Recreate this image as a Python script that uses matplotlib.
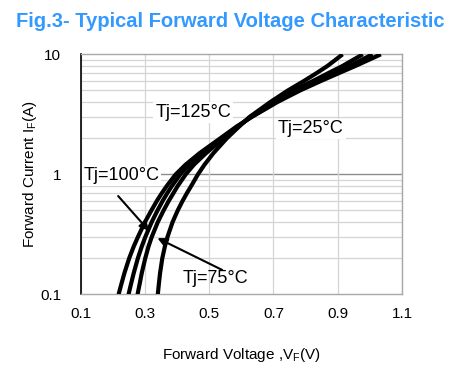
import matplotlib
matplotlib.use("Agg")
import matplotlib.pyplot as plt
from matplotlib.ticker import NullFormatter, LogLocator

plt.rcParams['font.family'] = ['Liberation Sans', 'DejaVu Sans']

# Data (forward current in A, forward voltage in V)
current = [0.1, 0.12, 0.15, 0.2, 0.25, 0.3, 0.4, 0.5, 0.6, 0.7, 0.8, 1.0,
           1.2, 1.5, 2.0, 2.5, 3.0, 4.0, 5.0, 6.0, 7.0, 8.0, 9.0, 10.0]
vf_125 = [0.218, 0.226, 0.236, 0.251, 0.265, 0.278, 0.300, 0.320, 0.337, 0.353, 0.368, 0.396,
          0.426, 0.470, 0.535, 0.585, 0.632, 0.712, 0.783, 0.848, 0.905, 0.955, 0.997, 1.034]
vf_100 = [0.249, 0.256, 0.265, 0.278, 0.290, 0.301, 0.321, 0.339, 0.355, 0.370, 0.384, 0.410,
          0.437, 0.480, 0.540, 0.588, 0.630, 0.706, 0.773, 0.835, 0.890, 0.937, 0.975, 1.008]
vf_75 = [0.277, 0.283, 0.290, 0.301, 0.311, 0.321, 0.340, 0.358, 0.374, 0.389, 0.402, 0.427,
         0.452, 0.490, 0.545, 0.590, 0.628, 0.700, 0.763, 0.823, 0.872, 0.915, 0.948, 0.978]
vf_25 = [0.340, 0.343, 0.347, 0.354, 0.362, 0.370, 0.386, 0.402, 0.417, 0.431, 0.444, 0.465,
         0.485, 0.513, 0.555, 0.593, 0.625, 0.690, 0.745, 0.795, 0.835, 0.868, 0.893, 0.915]
series = [vf_125, vf_100, vf_75, vf_25]

x_ticks = [0.1, 0.3, 0.5, 0.7, 0.9, 1.1]
x_tick_labels = ["0.1", "0.3", "0.5", "0.7", "0.9", "1.1"]
y_ticks = [0.1, 1, 10]
y_tick_labels = ["0.1", "1", "10"]

title = "Fig.3- Typical Forward Voltage Characteristic"
xlabel = "Forward Voltage ,V$_{\\mathregular{F}}$(V)"
ylabel = "Forward Current I$_{\\mathregular{F}}$(A)"

fig = plt.figure(figsize=(4.6, 3.79), dpi=100)
ax = fig.add_axes([0.1754, 0.2235, 0.874 - 0.1754, 0.8567 - 0.2235])

ax.set_yscale('log')
ax.set_xlim(0.1, 1.1)
ax.set_ylim(0.1, 10)

ax.set_xticks(x_ticks)
ax.set_xticklabels(x_tick_labels)
ax.set_yticks(y_ticks)
ax.set_yticklabels(y_tick_labels)
ax.yaxis.set_minor_locator(LogLocator(base=10, subs=range(2, 10)))
ax.yaxis.set_minor_formatter(NullFormatter())
ax.tick_params(which='both', length=0)
ax.tick_params(axis='x', labelsize=11, pad=9)
ax.tick_params(axis='y', labelsize=11, pad=14)
ax.grid(True, axis='x', which='major', color='#d4d4d4', lw=0.9)
ax.grid(True, axis='y', which='minor', color='#d4d4d4', lw=0.9)
ax.axhline(1, color='#8c8c8c', lw=1.0, zorder=1)

for s in ['top', 'right', 'bottom']:
    ax.spines[s].set_color('#a8a8a8')
    ax.spines[s].set_linewidth(1.0)
ax.spines['left'].set_color('black')
ax.spines['left'].set_linewidth(1.2)

for v in series:
    ax.plot(v, current, color='black', lw=3.0, solid_capstyle='butt',
            solid_joinstyle='round', zorder=3)

bbox = dict(boxstyle='square,pad=0.1', fc='white', ec='none')
ax.text(0.45, 3.27, "Tj=125°C", fontsize=13, ha='center', va='center', bbox=bbox, zorder=2)
ax.text(0.8166, 2.386, "Tj=25°C", fontsize=13, ha='center', va='center', bbox=bbox, zorder=2)
ax.text(0.226, 0.968, "Tj=100°C", fontsize=13, ha='center', va='center', bbox=bbox, zorder=2)
ax.text(0.5197, 0.1367, "Tj=75°C", fontsize=13, ha='center', va='center', zorder=2)

arrow = dict(arrowstyle='-|>', mutation_scale=14, lw=1.5, color='black', shrinkA=0, shrinkB=0)
ax.annotate("", xy=(0.313, 0.337), xytext=(0.2166, 0.659), arrowprops=arrow, zorder=4)
ax.annotate("", xy=(0.339, 0.294), xytext=(0.5406, 0.1594), arrowprops=arrow, zorder=4)

ax.set_xlabel(xlabel, fontsize=11, labelpad=18)
ax.set_ylabel(ylabel, fontsize=11, labelpad=1)

fig.text(0.5, 1 - 21.5 / 379, title, fontsize=14.5, fontweight='bold', color='#3399ff',
         ha='center', va='center')

fig.savefig('out.png', dpi=100)
